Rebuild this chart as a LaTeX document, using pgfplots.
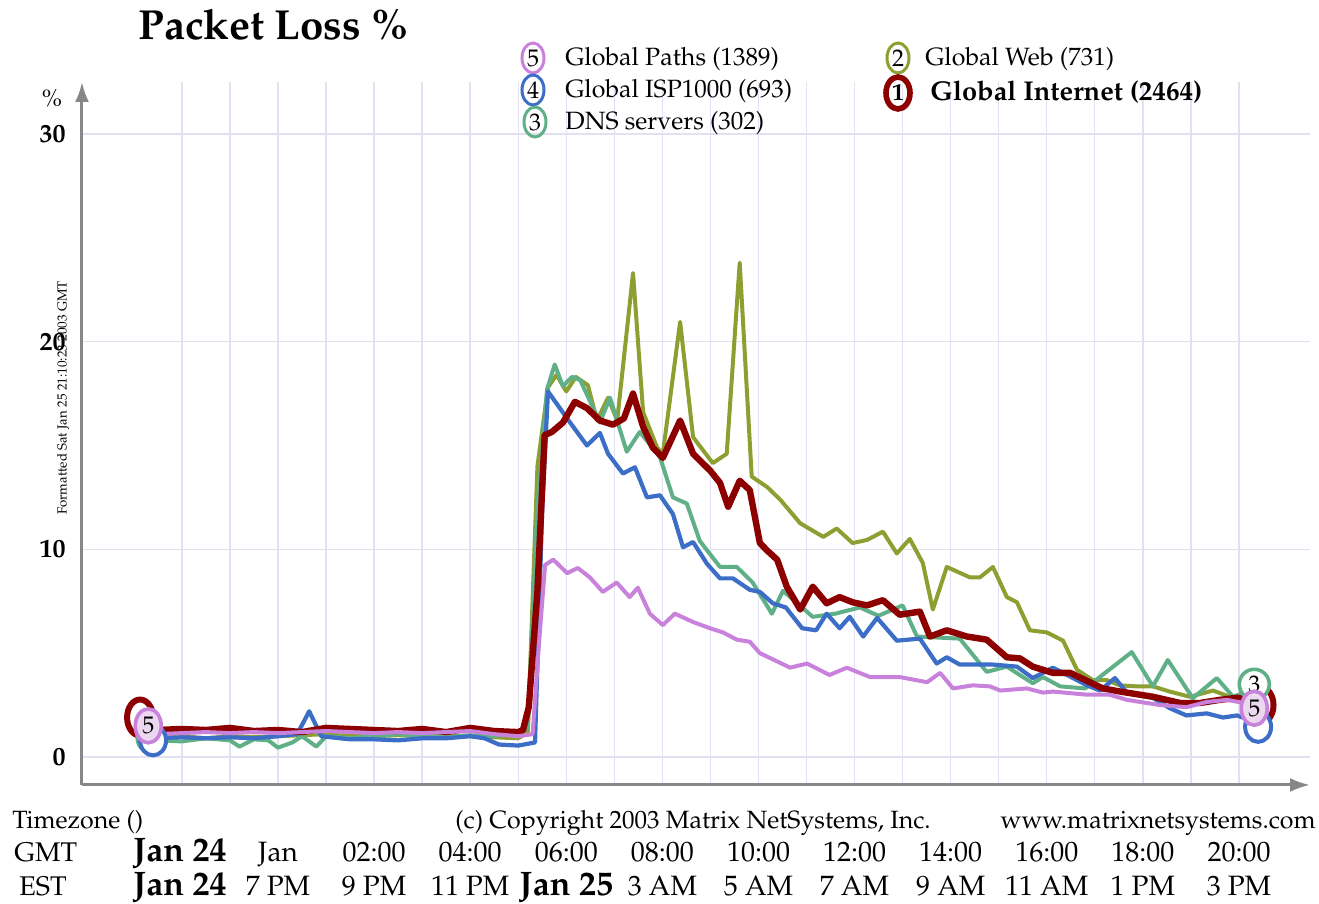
\documentclass[border=0pt]{standalone}
\usepackage[T1]{fontenc}
\renewcommand{\rmdefault}{ppl}
\usepackage{pgfplots}
\pgfplotsset{compat=1.18}
\usetikzlibrary{arrows.meta,shapes.geometric}
\newcommand{\fs}[1]{\fontsize{#1}{#1}\selectfont}
\definecolor{cRed}{RGB}{140,0,0}
\definecolor{cOlive}{RGB}{140,160,50}
\definecolor{cTeal}{RGB}{95,175,135}
\definecolor{cBlue}{RGB}{60,110,200}
\definecolor{cPink}{RGB}{200,130,220}
\definecolor{cPinkL}{RGB}{235,215,240}
\definecolor{cGrid}{RGB}{225,225,242}
\definecolor{cAxis}{RGB}{135,135,135}
\begin{document}
\begin{tikzpicture}
\path[use as bounding box] (-41pt,-59.5pt) rectangle (618.5pt,392.5pt);
\begin{axis}[
  at={(0,0)}, anchor=south west, scale only axis,
  width=614pt, height=351.5pt,
  xmin=-4.079, xmax=21.48, ymin=-1.348, ymax=32.5,
  axis lines=left,
  axis line style={draw=cAxis, line width=1.5pt, -{Latex[length=10pt,width=7pt]}},
  xtick={-2,...,20}, xticklabels={},
  ytick={0,10,20,30},
  yticklabels={\textbf{0},\textbf{10},\textbf{20},\textbf{30}},
  yticklabel style={font=\fs{13}, anchor=east, inner sep=0pt, xshift=-8pt},
  grid=major, major grid style={draw=cGrid, line width=0.7pt},
  major tick length=0pt, tick style={draw=none},
  clip=false,
  every axis plot/.append style={line join=round, line cap=round},
]
% Global Web (2)
\addplot[cOlive, line width=2pt] coordinates {
(-2.8,1.0) (-2.5,0.9) (-2,1.0) (-1.5,0.9) (-1,1.0) (-0.5,0.95) (0,1.0) (0.5,1.05) (1,1.1) (1.5,1.0) (2,1.0) (2.5,1.05) (3,1.0) (3.5,1.05) (4,1.0) (4.5,0.95) (5,0.9) (5.2,1.2) (5.4,14) (5.62,17.8) (5.8,18.4) (6.0,17.6) (6.2,18.3) (6.45,17.9) (6.64,16.2) (6.87,17.3) (7.06,16.2) (7.39,23.3) (7.6,16.6) (7.89,14.9) (8.01,14.6) (8.37,20.95) (8.64,15.4) (9.05,14.15) (9.34,14.6) (9.61,23.8) (9.86,13.5) (10.18,13.0) (10.45,12.4) (10.87,11.25) (11.35,10.6) (11.63,11.0) (11.96,10.3) (12.26,10.45) (12.59,10.85) (12.88,9.8) (13.15,10.5) (13.42,9.35) (13.63,7.1) (13.92,9.15) (14.4,8.65) (14.61,8.65) (14.88,9.15) (15.17,7.7) (15.38,7.45) (15.65,6.1) (16.0,6.0) (16.34,5.6) (16.63,4.2) (16.96,3.7) (17.25,3.7) (17.52,3.45) (17.87,3.4) (18.21,3.4) (18.56,3.15) (18.98,2.9) (19.46,3.2) (19.81,2.9) (20.35,3.0)};
% DNS servers (3)
\addplot[cTeal, line width=2pt] coordinates {
(-2.8,0.6) (-2.5,0.8) (-2,0.75) (-1.5,0.9) (-1,0.8) (-0.8,0.5) (-0.5,0.85) (-0.2,0.8) (0,0.45) (0.3,0.7) (0.5,1.0) (0.8,0.5) (1.0,1.0) (1.5,0.9) (2,1.0) (2.5,1.1) (3,1.0) (3.5,0.95) (4,1.05) (4.5,1.0) (5,1.2) (5.2,1.4) (5.4,12) (5.6,17.7) (5.76,18.9) (5.93,17.85) (6.12,18.3) (6.29,18.15) (6.7,16.1) (6.91,17.3) (7.26,14.7) (7.53,15.65) (7.95,14.45) (8.22,12.5) (8.51,12.2) (8.78,10.4) (9.2,9.15) (9.55,9.15) (9.88,8.4) (10.28,6.9) (10.51,8.0) (11.13,6.75) (11.6,6.9) (12.11,7.2) (12.5,6.8) (13.0,7.3) (13.3,5.8) (14.19,5.7) (14.75,4.1) (15.17,4.35) (15.71,3.55) (15.92,3.85) (16.28,3.4) (16.8,3.3) (17.77,5.05) (18.21,3.4) (18.52,4.67) (19.04,2.83) (19.54,3.8) (19.88,2.9) (20.35,3.3)};
% Global ISP1000 (4)
\addplot[cBlue, line width=2.1pt] coordinates {
(-2.8,0.5) (-2.6,0.9) (-2,0.95) (-1.5,0.9) (-1,0.95) (-0.5,0.9) (0,1.0) (0.4,1.1) (0.65,2.2) (0.9,1.0) (1.5,0.85) (2,0.85) (2.5,0.8) (3,0.9) (3.5,0.9) (4,1.0) (4.3,0.9) (4.6,0.6) (5.0,0.55) (5.35,0.7) (5.5,12) (5.62,17.6) (6.08,16.1) (6.43,15.0) (6.7,15.6) (6.87,14.6) (7.18,13.65) (7.43,13.95) (7.68,12.5) (7.95,12.6) (8.22,11.7) (8.43,10.1) (8.64,10.35) (8.93,9.3) (9.2,8.6) (9.47,8.6) (9.82,8.05) (10.03,7.95) (10.3,7.4) (10.57,7.2) (10.91,6.2) (11.2,6.1) (11.42,6.9) (11.69,6.2) (11.9,6.75) (12.18,5.8) (12.47,6.7) (12.88,5.6) (13.36,5.7) (13.71,4.5) (13.92,4.8) (14.19,4.45) (14.88,4.45) (15.38,4.35) (15.71,3.8) (16.13,4.3) (16.84,3.45) (17.11,3.2) (17.42,3.8) (17.67,3.1) (18.21,2.85) (18.56,2.35) (18.91,2.0) (19.33,2.1) (19.67,1.9) (19.96,2.0) (20.2,1.8) (20.35,1.3)};
% Global Internet (1)
\addplot[cRed, line width=3.2pt] coordinates {
(-2.8,1.5) (-2.5,1.3) (-2,1.35) (-1.5,1.3) (-1,1.4) (-0.5,1.25) (0,1.3) (0.5,1.2) (1,1.4) (1.5,1.35) (2,1.3) (2.5,1.25) (3,1.35) (3.5,1.2) (4,1.4) (4.5,1.25) (5,1.2) (5.1,1.3) (5.22,2.4) (5.4,8) (5.55,15.5) (5.7,15.65) (5.93,16.1) (6.18,17.1) (6.43,16.8) (6.7,16.2) (6.97,16.0) (7.2,16.3) (7.39,17.5) (7.6,15.9) (7.8,14.9) (8.01,14.4) (8.37,16.2) (8.64,14.6) (8.99,13.8) (9.2,13.2) (9.37,12.05) (9.61,13.3) (9.82,12.85) (10.03,10.3) (10.2,9.9) (10.39,9.5) (10.59,8.2) (10.87,7.1) (11.13,8.2) (11.42,7.4) (11.69,7.7) (11.96,7.45) (12.26,7.3) (12.59,7.55) (12.94,6.85) (13.36,7.0) (13.57,5.8) (13.92,6.1) (14.34,5.8) (14.75,5.65) (15.17,4.8) (15.44,4.75) (15.71,4.35) (16.13,4.05) (16.49,4.05) (17.17,3.3) (17.53,3.15) (18.21,2.9) (18.78,2.6) (19.19,2.6) (19.6,2.75) (19.96,2.85) (20.35,2.7)};
% Global Paths (5)
\addplot[cPink, line width=2pt] coordinates {
(-2.8,1.3) (-2.5,1.1) (-2,1.15) (-1.5,1.2) (-1,1.15) (-0.5,1.2) (0,1.15) (0.5,1.2) (1,1.25) (1.5,1.2) (2,1.15) (2.5,1.2) (3,1.15) (3.5,1.2) (4,1.25) (4.5,1.1) (5,1.0) (5.3,1.1) (5.45,6) (5.56,9.25) (5.73,9.5) (6.02,8.85) (6.24,9.1) (6.49,8.65) (6.76,7.95) (7.05,8.4) (7.32,7.7) (7.49,8.15) (7.74,6.9) (8.01,6.35) (8.26,6.9) (8.64,6.5) (8.99,6.2) (9.26,6.0) (9.55,5.65) (9.82,5.55) (10.03,5.0) (10.39,4.6) (10.66,4.3) (11.01,4.5) (11.48,3.95) (11.84,4.3) (12.32,3.85) (12.94,3.85) (13.51,3.6) (13.78,4.05) (14.05,3.3) (14.46,3.45) (14.82,3.4) (15.03,3.2) (15.59,3.3) (15.92,3.1) (16.13,3.15) (16.84,3.0) (17.31,3.0) (17.67,2.75) (18.36,2.5) (18.91,2.4) (19.33,2.65) (19.75,2.75) (20.35,2.5)};
% start / end markers
\addplot[draw=none, nodes near coords={}, every node near coord/.append style={anchor=center, ellipse, draw=cRed, line width=3pt, fill=white, inner sep=0pt, minimum width=13pt, minimum height=18pt}] coordinates {(-2.87,1.9) (20.45,2.5)};
\addplot[draw=none, nodes near coords={}, every node near coord/.append style={anchor=center, ellipse, draw=cTeal, line width=1.8pt, fill=white, inner sep=0pt, minimum width=13pt, minimum height=15pt}] coordinates {(-2.66,0.95)};
\addplot[draw=none, nodes near coords={}, every node near coord/.append style={anchor=center, ellipse, draw=cBlue, line width=2pt, fill=white, inner sep=0pt, minimum width=13pt, minimum height=15pt}] coordinates {(-2.6,0.8) (20.4,1.45)};
\addplot[draw=none, nodes near coords={\fs{12}3}, every node near coord/.append style={anchor=center, ellipse, draw=cTeal, line width=1.8pt, fill=white, inner sep=0pt, minimum width=15pt, minimum height=15pt}] coordinates {(20.32,3.5)};
\addplot[draw=none, nodes near coords={\fs{12}5}, every node near coord/.append style={anchor=center, ellipse, draw=cPink, line width=1.8pt, fill=cPinkL, inner sep=0pt, minimum width=13pt, minimum height=17pt}] coordinates {(-2.7,1.5) (20.32,2.35)};
\end{axis}
\begin{scope}[x=0.5pt,y=-0.5pt,shift={(-41pt,392.5pt)}]
\node[anchor=base west, inner sep=0pt, font=\fs{21}\bfseries] at (138,40) {Packet Loss \%};
\node[font=\fs{12}] at (52,98) {\%};
\node[rotate=90, font=\fs{6.6}] at (63,398) {Formatted Sat Jan 25 21:10:23 2003 GMT};
% legend
\foreach \x/\y/\c/\n/\t in {533/58/cPink/5/Global Paths (1389), 533/90/cBlue/4/Global ISP1000 (693), 535/122/cTeal/3/DNS servers (302)}{
  \node[ellipse, draw=\c, line width=1.5pt, inner sep=0pt, minimum width=11pt, minimum height=15pt, font=\fs{12}] at (\x,\y) {\n};
  \node[anchor=base west, inner sep=0pt, font=\fs{12.5}] at (565,\y+8) {\t};
}
\node[ellipse, draw=cOlive, line width=1.5pt, inner sep=0pt, minimum width=11pt, minimum height=15pt, font=\fs{12}] at (898,58) {2};
\node[anchor=base west, inner sep=0pt, font=\fs{12.5}] at (925,66) {Global Web (731)};
\node[ellipse, draw=cRed, line width=2.8pt, inner sep=0pt, minimum width=12pt, minimum height=16pt, font=\fs{12}\bfseries] at (898,93) {1};
\node[anchor=base west, inner sep=0pt, font=\fs{13.6}\bfseries] at (930,101) {Global Internet (2464)};
% bottom rows
\node[anchor=base west, inner sep=0pt, font=\fs{12.5}] at (12,829) {Timezone ()};
\node[anchor=base west, inner sep=0pt, font=\fs{12.5}] at (455,829) {(c) Copyright 2003 Matrix NetSystems, Inc.};
\node[anchor=base east, inner sep=0pt, font=\fs{12.5}] at (1316,829) {www.matrixnetsystems.com};
\node[anchor=base west, inner sep=0pt, font=\fs{13.5}] at (14,862) {GMT};
\node[anchor=base, font=\fs{13.5}] at (43,896) {EST};
\foreach \h/\t in {0/Jan, 2/02:00, 4/04:00, 6/06:00, 8/08:00, 10/10:00, 12/12:00, 14/14:00, 16/16:00, 18/18:00, 20/20:00}{
  \node[anchor=base, font=\fs{14}] at ({278+48.05*\h},862) {\t};
}
\node[anchor=base, font=\fs{17}\bfseries] at (180,862) {Jan 24};
\node[anchor=base, font=\fs{17}\bfseries] at (180,896) {Jan 24};
\foreach \h/\t in {0/7 PM, 2/9 PM, 4/11 PM, 8/3 AM, 10/5 AM, 12/7 AM, 14/9 AM, 16/11 AM, 18/1 PM, 20/3 PM}{
  \node[anchor=base, font=\fs{14}] at ({278+48.05*\h},896) {\t};
}
\node[anchor=base, font=\fs{17}\bfseries] at ({278+48.05*6},896) {Jan 25};
\end{scope}
\end{tikzpicture}
\end{document}
